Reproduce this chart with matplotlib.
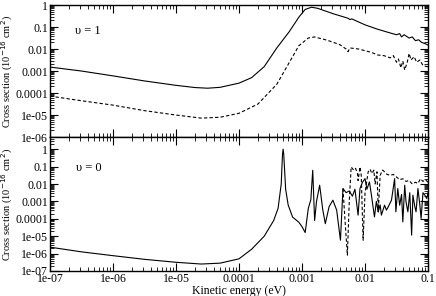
import matplotlib
matplotlib.use('Agg')
import matplotlib.pyplot as plt
import numpy as np
from matplotlib.ticker import LogLocator, FuncFormatter, NullFormatter

plt.rcParams['font.family'] = ['Liberation Serif', 'DejaVu Serif']

# values, stored as log10(energy / eV) and log10(cross section)
top_solid_loge = [-7.0, -6.5, -6.0, -5.5, -5.0, -4.7, -4.5, -4.3, -4.0, -3.8, -3.6, -3.4,
                  -3.2, -3.05, -2.95, -2.85, -2.75, -2.5, -2.27, -2.24, -2.21, -2.0, -1.8,
                  -1.6, -1.5, -1.45, -1.42, -1.38, -1.3, -1.25, -1.2, -1.15, -1.1, -1.05, -1.0]
top_solid_logs = [-2.82, -3.0, -3.22, -3.45, -3.65, -3.75, -3.78, -3.74, -3.55, -3.3, -2.8, -1.95,
                  -1.2, -0.55, -0.2, -0.1, -0.15, -0.4, -0.6, -0.66, -0.63, -0.9, -1.1,
                  -1.27, -1.35, -1.3, -1.45, -1.35, -1.5, -1.45, -1.62, -1.58, -1.7, -1.75, -1.82]

top_dash_loge = [-7.0, -6.5, -6.0, -5.5, -5.0, -4.6, -4.3, -4.0, -3.7, -3.4, -3.2, -3.05,
                 -2.9, -2.8, -2.6, -2.4, -2.3, -2.27, -2.24, -2.1, -1.9, -1.8, -1.7,
                 -1.6, -1.55, -1.5, -1.47, -1.43, -1.4, -1.37, -1.33, -1.3, -1.27, -1.22,
                 -1.18, -1.13, -1.08, -1.02, -1.0]
top_dash_logs = [-4.14, -4.35, -4.55, -4.8, -5.0, -5.14, -5.1, -4.92, -4.5, -3.6, -2.6, -1.85,
                 -1.5, -1.45, -1.6, -1.8, -2.0, -2.12, -1.95, -2.0, -2.15, -2.27, -2.3,
                 -2.4, -2.3, -2.6, -2.45, -2.85, -2.55, -2.95, -2.6, -2.2, -2.5, -2.35,
                 -2.6, -2.5, -2.75, -2.8, -2.8]

bot_solid_loge = [-7.0, -6.5, -6.0, -5.5, -5.0, -4.6, -4.3, -4.0, -3.8, -3.6, -3.45, -3.38,
                  -3.33, -3.31, -3.3, -3.29, -3.26, -3.22, -3.15, -3.05, -3.0, -2.95, -2.9,
                  -2.86, -2.83, -2.8, -2.77, -2.72, -2.67, -2.63, -2.57, -2.51, -2.45, -2.39,
                  -2.35, -2.3, -2.25, -2.2, -2.16, -2.11, -2.08, -2.04, -2.0, -1.97, -1.93,
                  -1.9, -1.85, -1.82, -1.79, -1.76, -1.74, -1.69, -1.66, -1.63, -1.58, -1.53,
                  -1.51, -1.48, -1.45, -1.42, -1.4, -1.37, -1.35, -1.32, -1.29, -1.26, -1.24,
                  -1.21, -1.19, -1.16, -1.13, -1.11, -1.08, -1.05, -1.02, -1.0]
bot_solid_logs = [-5.63, -5.9, -6.12, -6.33, -6.5, -6.6, -6.55, -6.3, -5.75, -5.0, -4.1, -3.4,
                  -2.0, -0.3, 0.0, -0.3, -2.3, -3.2, -3.9, -4.2, -4.45, -4.79, -3.4,
                  -2.9, -1.21, -4.1, -3.0, -2.07, -3.5, -4.28, -3.3, -2.93, -3.5, -5.23,
                  -2.26, -2.5, -2.4, -2.7, -2.3, -3.79, -2.26, -1.9, -1.69, -2.3, -1.88,
                  -2.6, -3.89, -3.0, -3.6, -3.2, -3.79, -3.22, -3.5, -3.3, -2.93, -1.69,
                  -3.6, -2.26, -3.22, -2.6, -4.18, -2.07, -3.0, -3.6, -2.5, -4.94, -2.64,
                  -3.3, -3.6, -2.26, -3.2, -3.98, -2.5, -2.64, -2.84, -2.5]

bot_dash_loge = [-2.35, -2.31, -2.28, -2.25, -2.22, -2.18, -2.15, -2.12, -2.11, -2.08, -2.06,
                 -2.03, -2.0, -1.95, -1.92, -1.89, -1.86, -1.84, -1.81, -1.79, -1.76, -1.72,
                 -1.69, -1.65, -1.6, -1.55, -1.5, -1.45, -1.4, -1.35, -1.3, -1.25, -1.2,
                 -1.16, -1.12, -1.08, -1.04, -1.0]
bot_dash_logs = [-2.26, -4.5, -6.09, -3.0, -1.02, -1.2, -1.1, -1.4, -1.8, -1.02, -1.5,
                 -5.23, -2.5, -1.3, -1.15, -1.4, -1.2, -2.0, -1.3, -3.6, -1.5, -1.2,
                 -1.3, -1.45, -1.5, -1.45, -1.6, -1.75, -1.7, -1.85, -1.8, -2.0, -1.9,
                 -1.97, -1.7, -1.85, -1.75, -1.9]

top_ticks = [1, 0.1, 0.01, 0.001, 0.0001, 1e-5, 1e-6]
bot_ticks = [1, 0.1, 0.01, 0.001, 0.0001, 1e-5, 1e-6, 1e-7]
x_ticks = [1e-7, 1e-6, 1e-5, 1e-4, 1e-3, 1e-2, 1e-1]


def label_fmt(v, pos):
    if v >= 1e-4:
        return ('%.4f' % v).rstrip('0').rstrip('.')
    return '1e-%02d' % round(-np.log10(v))


def style_axis(ax, yticks):
    ax.set_xscale('log')
    ax.set_yscale('log')
    ax.set_xlim(1e-7, 0.1)
    ax.set_xticks(x_ticks)
    ax.set_yticks(yticks)
    ax.xaxis.set_minor_locator(LogLocator(base=10, subs=np.arange(2, 10), numticks=20))
    ax.yaxis.set_minor_locator(LogLocator(base=10, subs=np.arange(2, 10), numticks=20))
    ax.xaxis.set_minor_formatter(NullFormatter())
    ax.yaxis.set_minor_formatter(NullFormatter())
    ax.xaxis.set_major_formatter(FuncFormatter(label_fmt))
    ax.yaxis.set_major_formatter(FuncFormatter(label_fmt))
    ax.tick_params(which='both', direction='in', top=True, right=True, labelsize=8.5, pad=1.5)
    ax.tick_params(which='major', length=6, width=0.8)
    ax.tick_params(which='minor', length=3, width=0.6)
    for s in ax.spines.values():
        s.set_linewidth(1.0)
    ax.set_ylabel('Cross section (10$^{-16}$ cm$^{2}$)', fontsize=7.5)
    ax.yaxis.set_label_coords(-0.092, 0.5)


fig = plt.figure(figsize=(4.36, 2.96), dpi=100)
ax1 = fig.add_axes([0.1147, 0.537, 0.867, 0.446])
ax2 = fig.add_axes([0.1147, 0.0845, 0.867, 0.4525])

ax1.plot(10 ** np.array(top_solid_loge), 10 ** np.array(top_solid_logs), color='black', lw=0.8)
ax1.plot(10 ** np.array(top_dash_loge), 10 ** np.array(top_dash_logs), color='black', lw=0.8,
         ls=(0, (3, 2)))
style_axis(ax1, top_ticks)
ax1.set_ylim(1e-6, 1)
ax1.tick_params(labelbottom=False)
ax1.text(0.065, 0.78, 'υ = 1', transform=ax1.transAxes, fontsize=9)

ax2.plot(10 ** np.array(bot_solid_loge), 10 ** np.array(bot_solid_logs), color='black', lw=0.8)
ax2.plot(10 ** np.array(bot_dash_loge), 10 ** np.array(bot_dash_logs), color='black', lw=0.8,
         ls=(0, (3, 2)))
style_axis(ax2, bot_ticks)
ax2.set_ylim(1e-7, 5)
ax2.set_xlabel('Kinetic energy (eV)', fontsize=8.5)
ax2.xaxis.set_label_coords(0.5, -0.105)
ax2.text(0.07, 0.75, 'υ = 0', transform=ax2.transAxes, fontsize=9)

fig.savefig('out.png', dpi=100)
